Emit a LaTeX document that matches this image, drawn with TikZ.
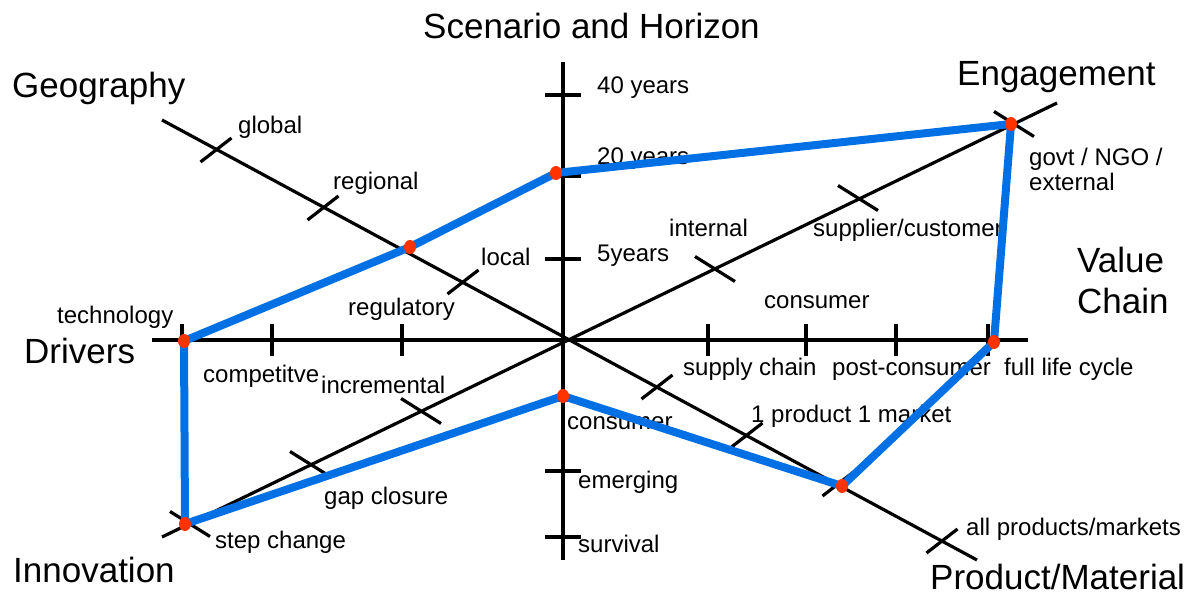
\documentclass[tikz,border=0pt]{standalone}
\usepackage{fontspec}
\setmainfont{Liberation Sans}
\usetikzlibrary{calc, positioning}
\definecolor{lineblue}{RGB}{0,112,228}
\definecolor{dotred}{RGB}{255,51,0}
\tikzset{
    axis/.style={draw=black, line width=3.2pt},
    axistick/.style={draw=black, line width=3.2pt},
    heading/.style={font=\fontsize{35}{41}\selectfont, anchor=base west, inner sep=0pt, align=left},
    ticklabel/.style={font=\fontsize{24}{25}\selectfont, anchor=base west, inner sep=0pt, align=left},
    profile/.style={draw=lineblue, line width=8pt, line join=round},
    knot/.style={fill=dotred}
}

\begin{document}
\begin{tikzpicture}[x=1pt, y=-1pt]
    \useasboundingbox (0,0) rectangle (1197,597);

    % Axis end points
    \coordinate (Vtop) at (563,62);
    \coordinate (Vbot) at (563,560);
    \coordinate (Hleft) at (152,340);
    \coordinate (Hright) at (1028,340);
    \coordinate (Gend) at (162,120);
    \coordinate (Pend) at (977,560);
    \coordinate (Iend) at (162,537);
    \coordinate (Eend) at (1057,103);

    % Axes
    \draw[axis] (Vtop) -- (Vbot);
    \draw[axis] (Hleft) -- (Hright);
    \draw[axis] (Gend) -- (Pend);
    \draw[axis] (Iend) -- (Eend);

    % Ticks on the vertical axis
    \foreach \y in {95,176,259,400,471,537}
        \draw[axistick] (545,\y) -- (581,\y);
    % Ticks on the horizontal axis
    \foreach \x in {182,272,402,708,806,896,988}
        \draw[axistick] (\x,324) -- (\x,356);
    % Ticks on the Geography - Product axis
    \foreach \x/\y in {216/150, 323/208, 463/282, 657/387, 747/435, 838/484, 942/541}
        \draw[axistick] (\x-15.5,\y+12) -- (\x+15.5,\y-12);
    % Ticks on the Innovation - Engagement axis
    \foreach \x/\y in {190/524, 310/464, 421/411, 715/269, 858/198, 1014/124}
        \draw[axistick] (\x-20,\y-12.5) -- (\x+20,\y+12.5);

    % Axis titles
    \node[heading] (scen) at (423,38) {Scenario and Horizon};
    \node[heading] (geo) at (12,97) {Geography};
    \node[heading] (eng) at (957,85) {Engagement};
    \node[heading] (val) at (1077,313) {Value\\Chain};
    \node[heading] (drv) at (24,363) {Drivers};
    \node[heading] (inn) at (13,582) {Innovation};
    \node[heading] (prod) at (930,589) {Product/Material};

    % Tick labels
    \node[ticklabel] (lglobal) at (238,133) {global};
    \node[ticklabel] (lregional) at (333,189) {regional};
    \node[ticklabel] (llocal) at (481,265) {local};
    \node[ticklabel] (lregul) at (348,315) {regulatory};
    \node[ticklabel] (ltech) at (57,323) {technology};
    \node[ticklabel] (lcomp) at (203,382) {competitve};
    \node[ticklabel] (lincr) at (321,393) {incremental};
    \node[ticklabel] (lgap) at (324,504) {gap closure};
    \node[ticklabel] (lstep) at (215,548) {step change};
    \node[ticklabel] (l40) at (597,93) {40 years};
    \node[ticklabel] (l20) at (597,164) {20 years};
    \node[ticklabel] (l5) at (597,261) {5years};
    \node[ticklabel] (lint) at (669,236) {internal};
    \node[ticklabel] (lsupp) at (813,236) {supplier/customer};
    \node[ticklabel] (lconsv) at (764,308) {consumer};
    \node[ticklabel] (lgovt) at (1029,190) {govt / NGO /\\external};
    \node[ticklabel] (lfull) at (1004,375) {full life cycle};
    \node[ticklabel] (lpost) at (832,375) {post-consumer};
    \node[ticklabel] (lsupply) at (683,375) {supply chain};
    \node[ticklabel] (lone) at (751,422) {1 product 1 market};
    \node[ticklabel] (lconsp) at (567,429) {consumer};
    \node[ticklabel] (lemerg) at (578,488) {emerging};
    \node[ticklabel] (lsurv) at (578,552) {survival};
    \node[ticklabel] (lall) at (966,535) {all products/markets};

    % Profile points
    \coordinate (H20) at (556,173);
    \coordinate (Egov) at (1011,124);
    \coordinate (Vlife) at (994,342);
    \coordinate (Pone) at (842,486);
    \coordinate (Scons) at (563,396);
    \coordinate (Istep) at (185,524);
    \coordinate (Dtech) at (184,341);
    \coordinate (Greg) at (410,247);

    % Profile
    \draw[profile] (H20) -- (Egov) -- (Vlife) -- (Pone) -- (Scons) -- (Istep) -- (Dtech) -- (Greg) -- cycle;
    \foreach \p in {H20,Egov,Vlife,Pone,Scons,Istep,Dtech,Greg}
        \fill[knot] (\p) ellipse (6 and 7);

\end{tikzpicture}
\end{document}
